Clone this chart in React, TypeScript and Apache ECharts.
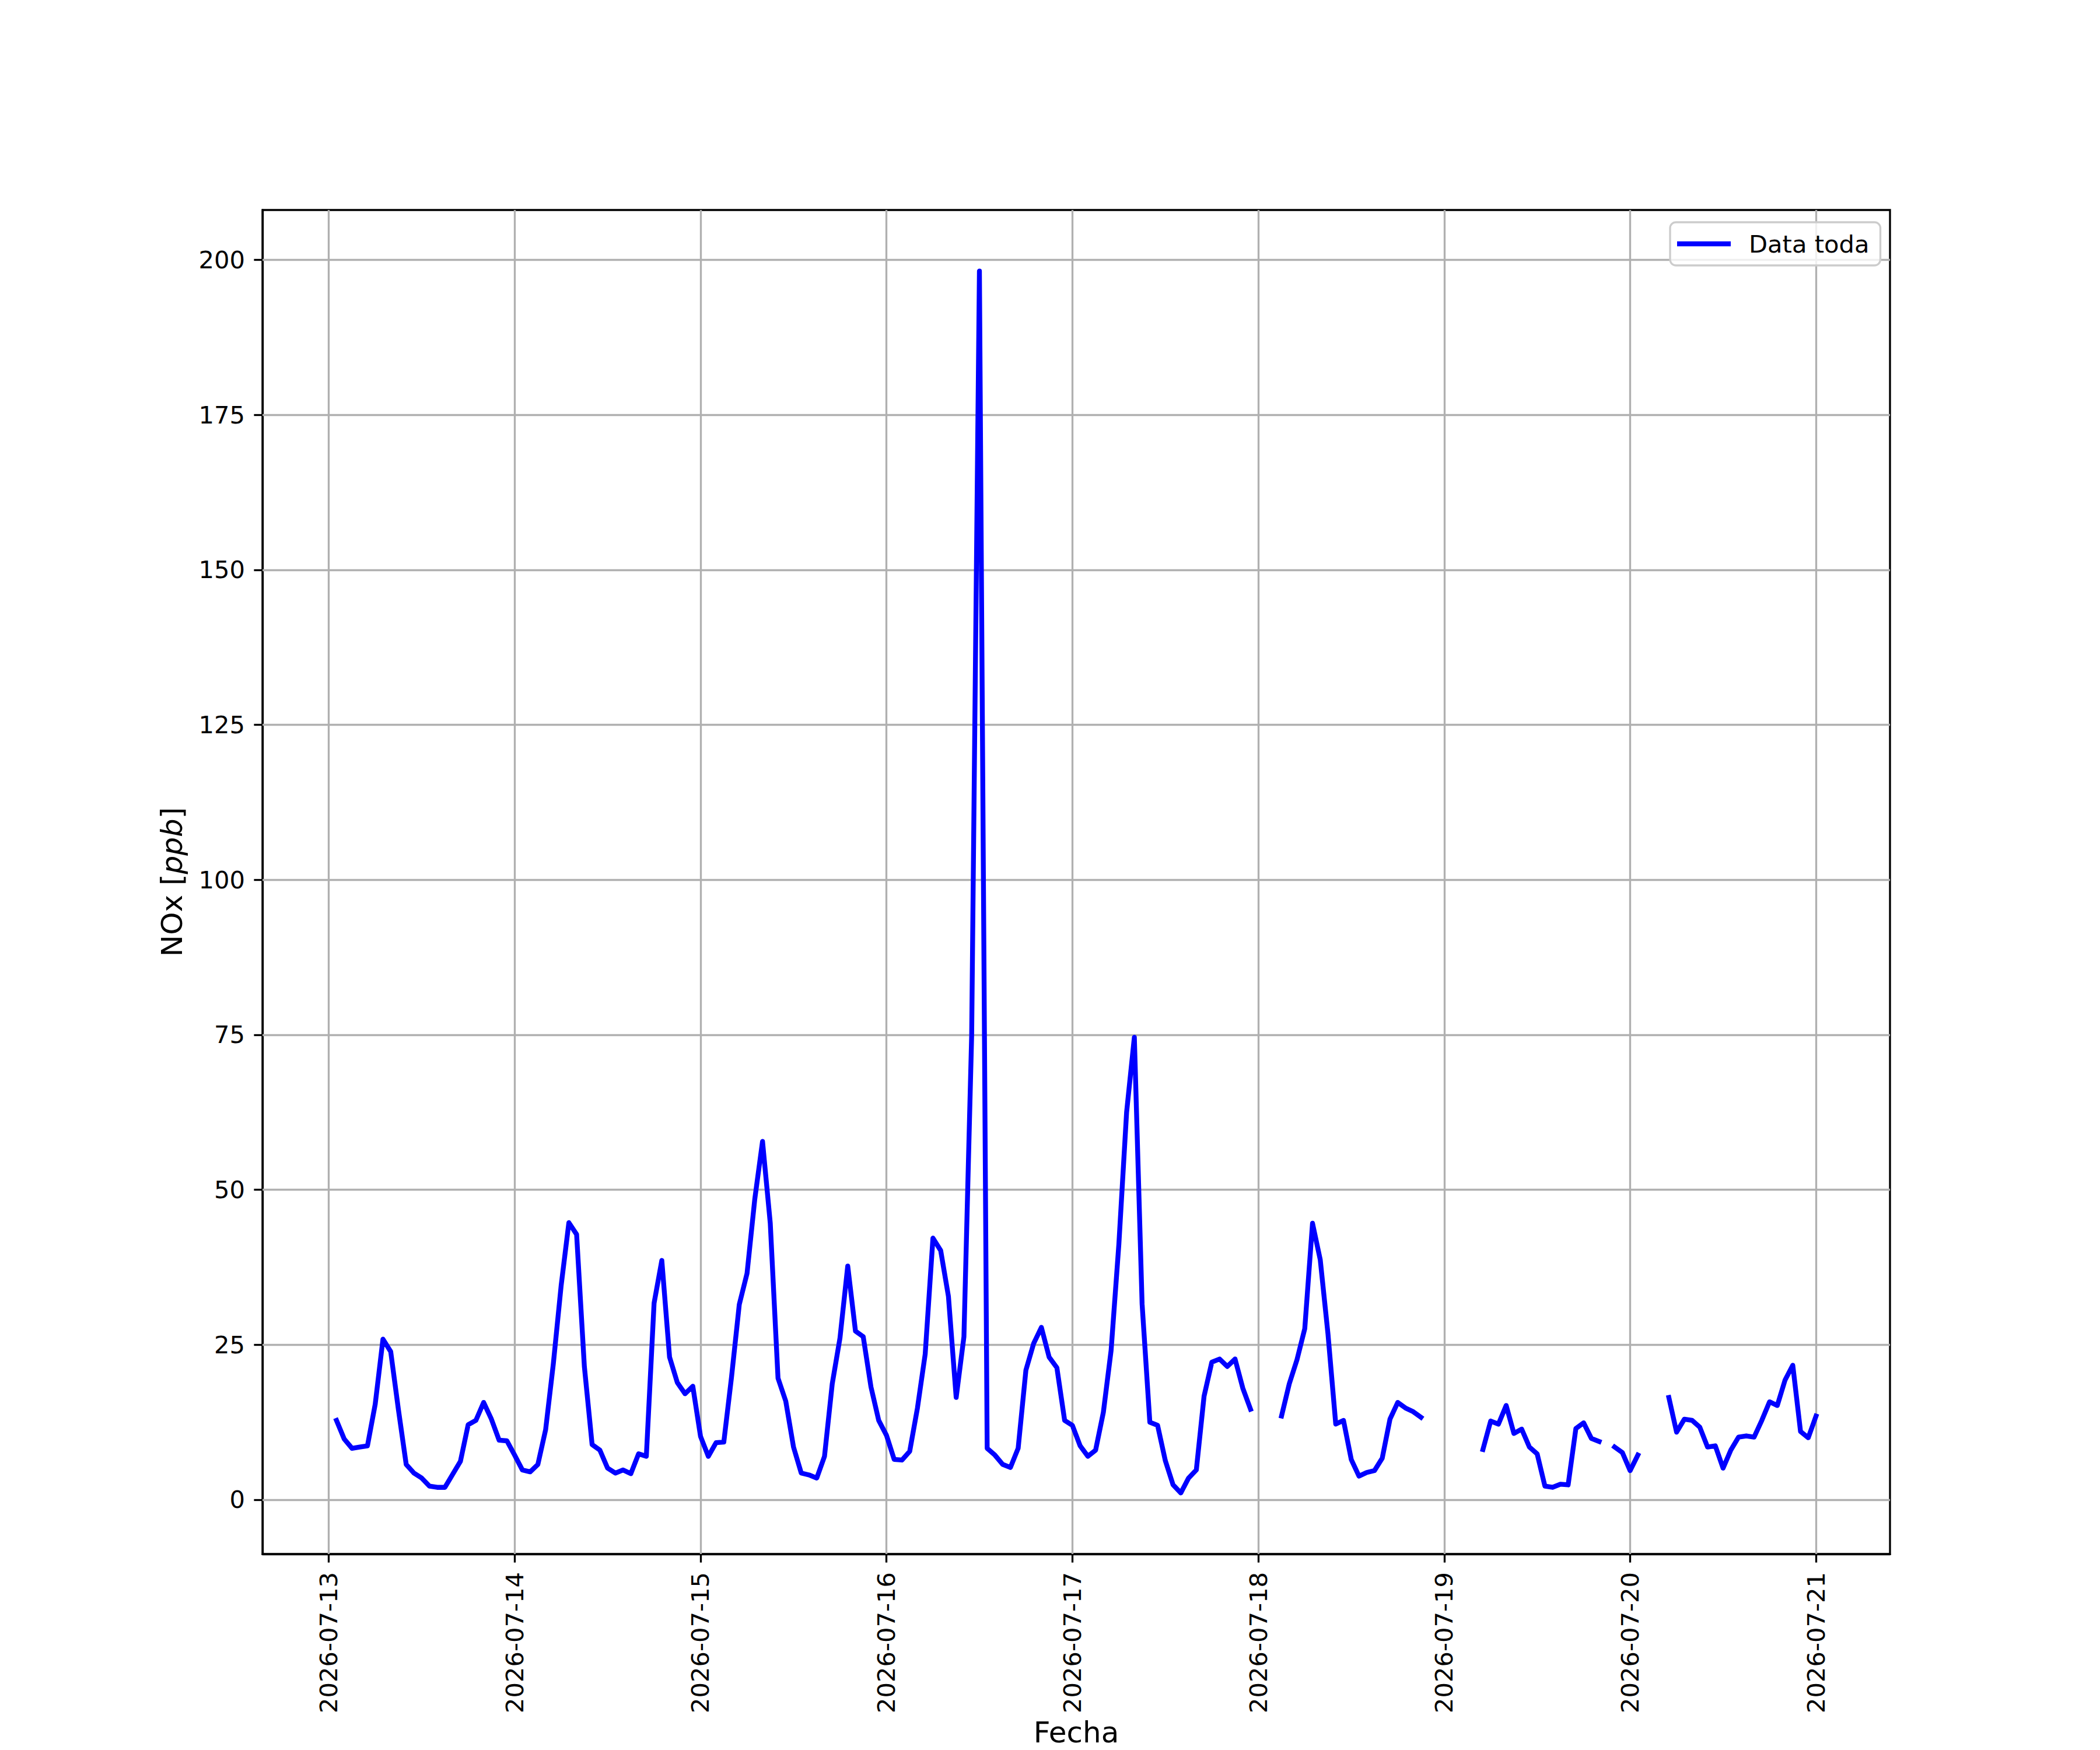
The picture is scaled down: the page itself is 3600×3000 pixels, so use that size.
import React, { useEffect, useRef } from "react";
import * as echarts from "echarts";

// Hourly NOx [ppb], index = hour of day, null = missing
const day0713 = [null, 12.8, 9.8, 8.3, 8.5, 8.7, 15.4, 25.9, 23.9, 14.5, 5.7, 4.3, 3.5, 2.2, 2.0, 2.0, 4.1, 6.2, 12.1, 12.8, 15.7, 13.0, 9.6, 9.5];
const day0714 = [7.2, 4.8, 4.5, 5.7, 11.3, 22.0, 34.5, 44.7, 42.8, 21.5, 8.9, 8.0, 5.1, 4.3, 4.8, 4.2, 7.4, 7.0, 31.7, 38.6, 23.0, 18.9, 17.1, 18.3];
const day0715 = [10.2, 7.0, 9.2, 9.3, 19.8, 31.5, 36.5, 48.5, 57.8, 44.6, 19.6, 15.9, 8.5, 4.3, 4.0, 3.5, 7.0, 18.7, 26.1, 37.7, 27.2, 26.3, 18.2, 12.8];
const day0716 = [10.4, 6.5, 6.4, 7.8, 14.8, 23.5, 42.2, 40.2, 32.8, 16.5, 26.3, 75.0, 198.2, 8.3, 7.2, 5.7, 5.2, 8.3, 20.9, 25.2, 27.8, 23.0, 21.3, 12.8];
const day0717 = [12.0, 8.7, 7.0, 8.0, 14.1, 24.1, 41.2, 62.5, 74.6, 31.6, 12.5, 12.0, 6.3, 2.4, 1.1, 3.5, 4.8, 16.7, 22.2, 22.7, 21.5, 22.7, 18.0, 14.6];
const day0718 = [null, null, null, 13.5, 18.7, 22.6, 27.6, 44.6, 38.7, 26.7, 12.2, 12.8, 6.5, 3.8, 4.4, 4.7, 6.7, 13.0, 15.7, 14.8, 14.2, 13.3, null, null];
const day0719 = [null, null, null, null, null, 8.1, 12.7, 12.2, 15.2, 10.7, 11.4, 8.5, 7.4, 2.2, 2.0, 2.5, 2.4, 11.5, 12.4, 9.9, 9.4, null, 8.5, 7.6];
const day0720 = [4.7, 7.2, null, null, null, 16.5, 10.9, 13.0, 12.8, 11.7, 8.5, 8.7, 5.1, 8.0, 10.1, 10.3, 10.1, 12.8, 15.8, 15.2, 19.3, 21.7, 11.0, 10.0];
const day0721 = [13.5];

const dayStarts = ["2026-07-13", "2026-07-14", "2026-07-15", "2026-07-16", "2026-07-17", "2026-07-18", "2026-07-19", "2026-07-20", "2026-07-21"];
const dayValues = [day0713, day0714, day0715, day0716, day0717, day0718, day0719, day0720, day0721];

const yTicks = [0, 25, 50, 75, 100, 125, 150, 175, 200];
const xTickLabels = dayStarts;

const seriesName = "Data toda";
const FONT = "DejaVu Sans";

function dayMs(s: string) {
  const [y, m, d] = s.split("-").map(Number);
  return Date.UTC(y, m - 1, d);
}
const HOUR = 3600 * 1000;
const pad = (n: number) => (n < 10 ? "0" + n : "" + n);
const fmtDate = (v: number) => {
  const d = new Date(Math.round(v));
  return `${d.getUTCFullYear()}-${pad(d.getUTCMonth() + 1)}-${pad(d.getUTCDate())}`;
};

export default function App() {
  const ref = useRef<HTMLDivElement>(null);
  useEffect(() => {
    if (!ref.current) return;
    const chart = echarts.init(ref.current, undefined, { renderer: "svg" });

    const data: [number, number | null][] = [];
    dayValues.forEach((arr, di) => {
      const base = dayMs(dayStarts[di]);
      arr.forEach((v, h) => data.push([base + h * HOUR, v]));
    });
    const valid = data.filter((d) => d[1] !== null) as [number, number][];
    const tMin = valid[0][0];
    const tMax = valid[valid.length - 1][0];
    const vMin = Math.min(...valid.map((d) => d[1]));
    const vMax = Math.max(...valid.map((d) => d[1]));
    const xMin = tMin - 0.05 * (tMax - tMin);
    const xMax = tMax + 0.05 * (tMax - tMin);
    const yMin = vMin - 0.05 * (vMax - vMin);
    const yMax = vMax + 0.05 * (vMax - vMin);

    const xTickVals = xTickLabels.map(dayMs);
    const gridColor = "#b0b0b0";
    const lw = 3.33;

    chart.setOption({
      animation: false,
      backgroundColor: "#ffffff",
      textStyle: { fontFamily: FONT },
      grid: {
        left: 450,
        top: 360,
        width: 2790,
        height: 2310,
        show: true,
        borderColor: "#000000",
        borderWidth: lw,
        backgroundColor: "transparent",
        containLabel: false,
      },
      legend: {
        data: [seriesName],
        left: 2863,
        top: 381,
        orient: "vertical",
        icon: "rect",
        itemWidth: 92,
        itemHeight: 8.33,
        padding: [12, 19, 12, 12],
        backgroundColor: "rgba(255,255,255,0.8)",
        borderColor: "#cccccc",
        borderWidth: 3.33,
        borderRadius: 10,
        textStyle: {
          fontFamily: FONT,
          fontSize: 41.67,
          color: "#000000",
          lineHeight: 50,
          padding: [0, 0, 0, 26],
        },
      },
      xAxis: {
        type: "value",
        min: xMin,
        max: xMax,
        name: "Fecha",
        nameLocation: "middle",
        nameGap: 280,
        nameTextStyle: { fontFamily: FONT, fontSize: 50, color: "#000000" },
        axisLine: { show: true, onZero: false, lineStyle: { color: "#000000", width: lw } },
        axisTick: {
          show: true,
          inside: false,
          length: 14.6,
          customValues: xTickVals,
          lineStyle: { color: "#000000", width: lw },
        },
        axisLabel: {
          show: true,
          customValues: xTickVals,
          rotate: 90,
          margin: 31,
          fontFamily: FONT,
          fontSize: 41.67,
          color: "#000000",
          formatter: (v: number) => fmtDate(v),
        },
        splitLine: { show: false },
      },
      yAxis: {
        type: "value",
        min: yMin,
        max: yMax,
        name: "{a|NOx [}{b|ppb}{a|]}",
        nameLocation: "middle",
        nameGap: 130,
        nameTextStyle: {
          fontFamily: FONT,
          fontSize: 50,
          color: "#000000",
          rich: {
            a: { fontFamily: FONT, fontSize: 50, color: "#000000" },
            b: { fontFamily: FONT, fontSize: 50, color: "#000000", fontStyle: "italic" },
          },
        },
        axisLine: { show: true, onZero: false, lineStyle: { color: "#000000", width: lw } },
        axisTick: {
          show: true,
          inside: false,
          length: 14.6,
          customValues: yTicks,
          lineStyle: { color: "#000000", width: lw },
        },
        axisLabel: {
          show: true,
          customValues: yTicks,
          margin: 30,
          fontFamily: FONT,
          fontSize: 41.67,
          color: "#000000",
          formatter: (v: number) => String(v),
        },
        splitLine: { show: false },
      },
      series: [
        {
          name: "grid",
          type: "line",
          data: [],
          silent: true,
          z: 1,
          markLine: {
            z: 1,
            silent: true,
            symbol: ["none", "none"],
            label: { show: false },
            emphasis: { disabled: true },
            animation: false,
            lineStyle: { color: gridColor, width: lw, type: "solid" },
            data: [
              ...yTicks.map((v) => ({ yAxis: v })),
              ...xTickVals.map((v) => ({ xAxis: v })),
            ],
          },
        },
        {
          name: seriesName,
          type: "line",
          data: data,
          z: 3,
          showSymbol: false,
          symbol: "none",
          connectNulls: false,
          clip: true,
          lineStyle: { color: "#0000ff", width: 8.33, join: "round", cap: "square" },
          itemStyle: { color: "#0000ff" },
          emphasis: { disabled: true },
        },
      ],
    });
    return () => chart.dispose();
  }, []);
  return (
    <div
      ref={ref}
      style={{ position: "fixed", left: 0, top: 0, width: 3600, height: 3000, background: "#ffffff" }}
    />
  );
}
